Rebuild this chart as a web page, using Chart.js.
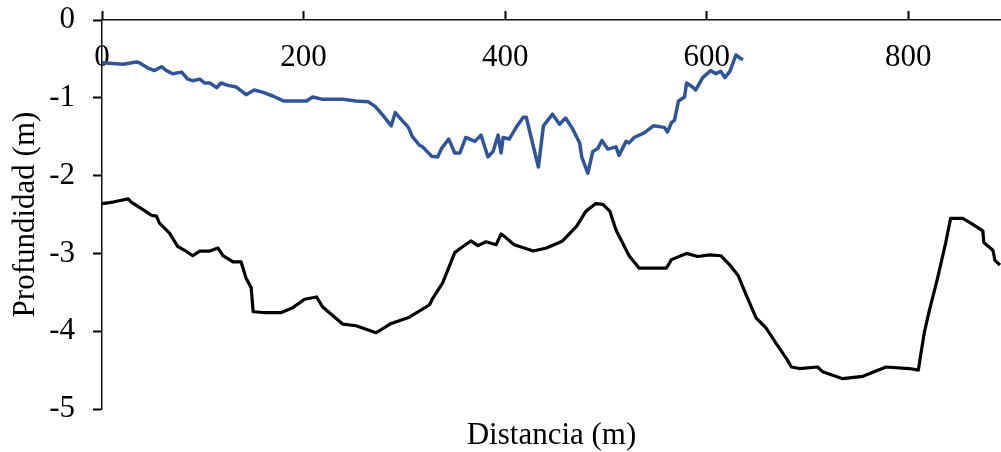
<!DOCTYPE html>
<html>
<head>
<meta charset="utf-8">
<script src="https://cdn.jsdelivr.net/npm/chart.js@4.4.1/dist/chart.umd.min.js"></script>
<style>
    html, body { margin: 0; padding: 0; background: #fff; }
    #wrap { width: 1001px; height: 452px; position: relative; }
</style>
</head>
<body>
<div id="wrap"><canvas id="myChart"></canvas></div>
<script>
// blue profile (upper line)
const blueDist = [0, 21, 34, 37, 46, 52, 59, 64, 70, 79, 85, 90, 97, 102, 107, 114, 118, 125, 133, 143,
    151, 160, 170, 180, 189, 203, 209, 219, 239, 252, 264, 271, 279, 287, 291, 297, 304, 308, 315, 318,
    327, 333, 337, 344, 350, 355, 361, 370, 376, 383, 388, 393, 396, 398, 404, 411, 418, 421, 426, 433,
    438, 447, 454, 460, 467, 474, 476, 482, 487, 492, 496, 502, 510, 513, 520, 523, 528, 538, 547, 558,
    561, 565, 568, 572, 578, 580, 586, 589, 596, 604, 609, 614, 618, 623, 629, 633, 636];
const blueDepth = [-0.55, -0.57, -0.54, -0.55, -0.62, -0.65, -0.60, -0.65, -0.69, -0.67, -0.76, -0.78, -0.76, -0.81, -0.81, -0.87, -0.81, -0.84, -0.86, -0.96,
    -0.90, -0.93, -0.98, -1.04, -1.04, -1.04, -0.99, -1.02, -1.02, -1.04, -1.05, -1.11, -1.23, -1.36, -1.19, -1.28, -1.38, -1.50, -1.61, -1.63,
    -1.75, -1.76, -1.65, -1.53, -1.71, -1.71, -1.51, -1.56, -1.48, -1.76, -1.69, -1.48, -1.71, -1.51, -1.53, -1.38, -1.25, -1.25, -1.52, -1.89,
    -1.36, -1.21, -1.34, -1.26, -1.40, -1.58, -1.76, -1.97, -1.69, -1.65, -1.55, -1.66, -1.63, -1.74, -1.56, -1.58, -1.51, -1.45, -1.36, -1.38,
    -1.44, -1.32, -1.29, -1.04, -0.99, -0.81, -0.86, -0.90, -0.74, -0.65, -0.69, -0.66, -0.74, -0.66, -0.45, -0.49, -0.51];

// black profile (lower line)
const blackDist = [0, 11, 18, 26, 29, 41, 49, 54, 57, 67, 75, 82, 90, 97, 107, 115, 120, 130, 138, 143,
    148, 150, 160, 178, 189, 201, 213, 219, 239, 252, 272, 287, 305, 325, 328, 338, 350, 356, 366, 373,
    381, 391, 396, 400, 409, 428, 441, 457, 471, 480, 490, 497, 504, 510, 523, 533, 547, 560, 565, 580,
    591, 603, 614, 623, 631, 639, 649, 659, 669, 679, 684, 692, 710, 715, 735, 755, 778, 801, 810, 812,
    816, 821, 829, 837, 842, 854, 862, 874, 875, 884, 886, 891];
const blackDepth = [-2.36, -2.34, -2.32, -2.30, -2.34, -2.44, -2.51, -2.52, -2.61, -2.74, -2.91, -2.96, -3.03, -2.97, -2.97, -2.93, -3.03, -3.11, -3.11, -3.32,
    -3.44, -3.75, -3.76, -3.76, -3.70, -3.59, -3.56, -3.69, -3.91, -3.93, -4.02, -3.90, -3.82, -3.66, -3.58, -3.38, -2.99, -2.93, -2.84, -2.90,
    -2.85, -2.89, -2.75, -2.79, -2.89, -2.97, -2.93, -2.84, -2.65, -2.46, -2.36, -2.37, -2.46, -2.70, -3.03, -3.19, -3.19, -3.19, -3.08, -3.00,
    -3.04, -3.02, -3.03, -3.15, -3.28, -3.53, -3.83, -3.96, -4.16, -4.35, -4.46, -4.48, -4.46, -4.52, -4.61, -4.58, -4.46, -4.48, -4.50, -4.33,
    -4.01, -3.73, -3.32, -2.87, -2.55, -2.55, -2.61, -2.71, -2.86, -2.96, -3.09, -3.15];

const xTickValues = [0, 200, 400, 600, 800];
const xMin = 0;
const xMax = 892;
const yMin = -5;
const yMax = 0;

const serif = "'Liberation Serif', 'Times New Roman', serif";

function toPoints(xs, ys) {
    let points = [];
    for (let i = 0; i < xs.length; i++) {
        points.push({ x: xs[i], y: ys[i] });
    }
    return points;
}

function makeDataset(xs, ys, color, width) {
    return {
        data: toPoints(xs, ys),
        borderColor: color,
        backgroundColor: color,
        borderWidth: width,
        borderJoinStyle: 'round',
        pointRadius: 0,
        tension: 0,
        fill: false
    };
}

// the axis paddings would push the plot area in, the reference has none
function noAxisPadding(scale) {
    scale.paddingTop = 0;
    scale.paddingBottom = 0;
    scale.paddingLeft = 0;
    scale.paddingRight = 0;
}

function createChart() {
    const cfg = {
        type: 'line',
        data: {
            datasets: [
                makeDataset(blueDist, blueDepth, '#2F5597', 3.5),
                makeDataset(blackDist, blackDepth, '#000000', 3.2)
            ]
        },
        options: {
            responsive: true,
            maintainAspectRatio: false,
            animation: false,
            layout: { padding: 0 },
            plugins: {
                legend: { display: false },
                tooltip: { enabled: false },
                title: {
                    display: true,
                    position: 'bottom',
                    fullSize: false,
                    text: 'Distancia (m)',
                    color: '#000',
                    font: { family: serif, size: 31, weight: 'normal', lineHeight: 1 },
                    padding: { top: 11.5, bottom: 0.5 }
                }
            },
            scales: {
                x: {
                    type: 'linear',
                    position: 'top',
                    min: xMin,
                    max: xMax,
                    afterBuildTicks: function (scale) {
                        scale.ticks = xTickValues.map(v => ({ value: v }));
                    },
                    afterFit: function (scale) {
                        scale.height = 20;
                        noAxisPadding(scale);
                    },
                    grid: {
                        drawOnChartArea: false,
                        drawTicks: true,
                        tickLength: 9,
                        tickWidth: 2,
                        tickColor: '#000'
                    },
                    border: { display: true, color: '#111', width: 1.5 },
                    ticks: {
                        mirror: true,
                        padding: 19.4,
                        color: '#000',
                        font: { family: serif, size: 31 }
                    }
                },
                y: {
                    type: 'linear',
                    position: 'left',
                    min: yMin,
                    max: yMax,
                    afterFit: function (scale) {
                        scale.width = 102;
                        noAxisPadding(scale);
                    },
                    grid: {
                        drawOnChartArea: false,
                        drawTicks: true,
                        tickLength: 9,
                        tickWidth: 2,
                        tickColor: '#000'
                    },
                    border: { display: true, color: '#111', width: 1.5 },
                    ticks: {
                        stepSize: 1,
                        padding: 18,
                        color: '#000',
                        font: { family: serif, size: 31 }
                    },
                    title: {
                        display: true,
                        text: 'Profundidad (m)',
                        color: '#000',
                        font: { family: serif, size: 31, weight: 'normal' },
                        padding: { top: 7.4, bottom: 0 }
                    }
                }
            }
        }
    };
    return new Chart(document.getElementById('myChart'), cfg);
}

const chart = createChart();
</script>
</body>
</html>
